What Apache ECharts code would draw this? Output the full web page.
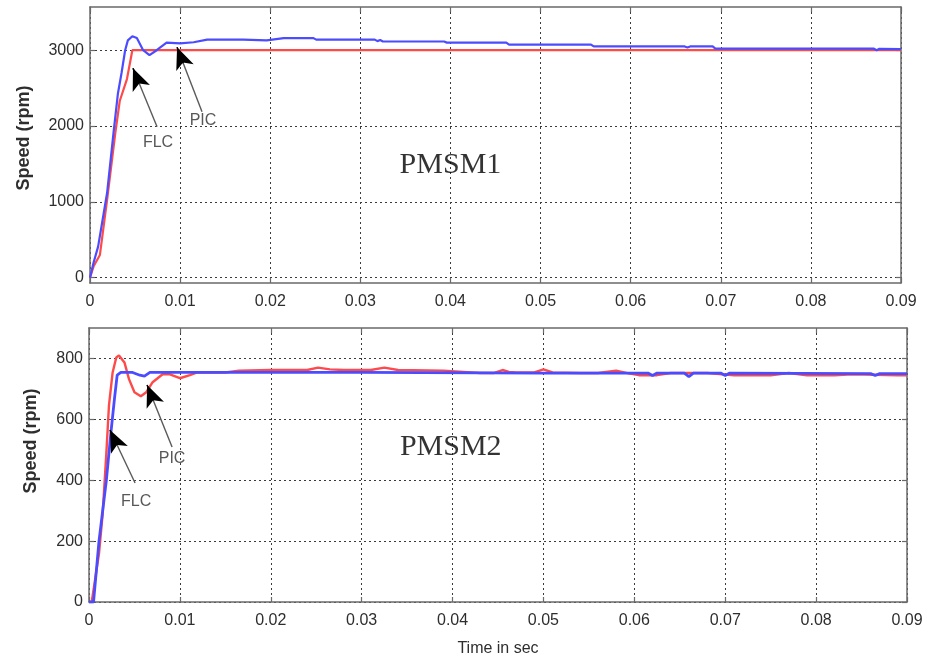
<!DOCTYPE html>
<html>
<head>
<meta charset="utf-8">
<script src="https://cdn.jsdelivr.net/npm/echarts@6/dist/echarts.min.js"></script>
<style>
  html, body { margin: 0; padding: 0; background: #ffffff; }
  #chart { width: 928px; height: 661px; }
</style>
</head>
<body>
<div id="chart"></div>
<script>
// ---- PMSM1 speed response (rpm) ----
const pmsm1FlcTime  = [0, 0.0004, 0.0011, 0.0019, 0.0028, 0.0033, 0.0041, 0.0047, 0.09];
const pmsm1FlcSpeed = [0, 150, 300, 1030, 1900, 2330, 2620, 3000, 3000];

const pmsm1PicTime  = [0, 0.0004, 0.0009, 0.0019, 0.0026, 0.0031, 0.0035, 0.0039, 0.0042, 0.0047,
                       0.0052, 0.0059, 0.0066, 0.0074, 0.0085, 0.0100, 0.0115, 0.0130, 0.0170, 0.0196,
                       0.0215, 0.0248, 0.0251, 0.0316, 0.0319, 0.0322, 0.0325, 0.0393, 0.0396, 0.0462,
                       0.0465, 0.0556, 0.0559, 0.0660, 0.0663, 0.0666, 0.0691, 0.0694, 0.0870, 0.0873,
                       0.0876, 0.09];
const pmsm1PicSpeed = [0, 200, 410, 1120, 1900, 2430, 2700, 3000, 3130, 3185,
                       3160, 3000, 2935, 3000, 3100, 3090, 3105, 3140, 3140, 3130,
                       3160, 3160, 3140, 3140, 3120, 3135, 3115, 3115, 3100, 3100,
                       3075, 3075, 3050, 3050, 3035, 3050, 3050, 3020, 3020, 3000,
                       3018, 3015];

// ---- PMSM2 speed response (rpm) ----
const pmsm2FlcTime  = [0, 0.0005, 0.0011, 0.0019, 0.0024, 0.0028, 0.0031, 0.0035, 0.0048, 0.0056,
                       0.0061, 0.0067, 0.0100, 0.0300, 0.0500, 0.0615, 0.0620, 0.0625, 0.0655, 0.0660,
                       0.0665, 0.0695, 0.0700, 0.0705, 0.0860, 0.0865, 0.0870, 0.09];
const pmsm2FlcSpeed = [0, 0, 200, 397, 553, 667, 745, 754, 754, 745,
                       742, 754, 754, 754, 752, 752, 744, 752, 752, 740,
                       752, 752, 744, 752, 750, 744, 750, 750];

const pmsm2PicTime  = [0, 0.0003, 0.0011, 0.0015, 0.0019, 0.0022, 0.0026, 0.0030, 0.0033, 0.0039,
                       0.0044, 0.0050, 0.0057, 0.0063, 0.0070, 0.0081, 0.0089, 0.0100, 0.0111, 0.0119,
                       0.0150, 0.0165, 0.0200, 0.0240, 0.0252, 0.0265, 0.0280, 0.0310, 0.0325, 0.0340,
                       0.0390, 0.0430, 0.0445, 0.0455, 0.0462, 0.0470, 0.0490, 0.0500, 0.0510, 0.0540,
                       0.0560, 0.0580, 0.0595, 0.0605, 0.0625, 0.0640, 0.0680, 0.0710, 0.0750, 0.0770,
                       0.0790, 0.0820, 0.0840, 0.0890, 0.09];
const pmsm2PicSpeed = [0, 0, 159, 289, 484, 647, 754, 803, 810, 787,
                       732, 689, 676, 689, 722, 748, 748, 735, 745, 754,
                       754, 760, 762, 762, 770, 764, 762, 762, 770, 762,
                       760, 752, 752, 762, 756, 754, 754, 764, 754, 752,
                       752, 760, 750, 745, 745, 752, 752, 745, 745, 752,
                       745, 745, 748, 745, 745];

// ---- axis ticks ----
const pmsm1SpeedTicks = [0, 1000, 2000, 3000];
const pmsm2SpeedTicks = [0, 200, 400, 600, 800];

// ---- text and arrow annotations (data coordinates) ----
const pmsm1Notes = [
  { text: 'FLC', at: [0.00755, 1777], tail: [0.00744, 1990], tip: [0.00477, 2763] },
  { text: 'PIC', at: [0.01254, 2066], tail: [0.01243, 2190], tip: [0.00966, 3040] }
];
const pmsm2Notes = [
  { text: 'FLC', at: [0.00518, 329], tail: [0.00507, 391], tip: [0.00231, 565] },
  { text: 'PIC', at: [0.00914, 470], tail: [0.00914, 509], tip: [0.00639, 713] }
];
const pmsm1Label = { text: 'PMSM1', at: [0.0400, 1487] };
const pmsm2Label = { text: 'PMSM2', at: [0.0398, 509] };

const RED = '#ff4a4a';
const BLUE = '#4b4bff';
const TEXT = '#2e2e2e';
const FRAME = '#6a6a6a';
const SANS = '"Liberation Sans", Arial, sans-serif';

const zip = (xs, ys) => xs.map((x, i) => [x, ys[i]]);

const gridLine = { show: true, lineStyle: { color: '#3a3a3a', width: 1, type: [2, 3] } };

function timeAxis(gridIndex, position, withLabels) {
  return {
    type: 'value', gridIndex, position,
    min: 0, max: 0.09, interval: 0.01,
    axisLine: { show: true, onZero: false, lineStyle: { color: FRAME, width: 1.5 } },
    axisTick: { show: true, inside: true, length: 5, lineStyle: { color: FRAME, width: 1.2 } },
    axisLabel: {
      show: withLabels, margin: 11, color: TEXT, fontSize: 16, fontFamily: SANS,
      formatter: v => (v === 0 ? '0' : v.toFixed(2))
    },
    splitLine: withLabels ? gridLine : { show: false }
  };
}

function speedAxis(gridIndex, position, min, max, ticks, withLabels, name, nameGap, shift) {
  return {
    type: 'value', gridIndex, position, min, max,
    name: withLabels ? name : '',
    nameLocation: 'middle', nameGap,
    nameTextStyle: { color: TEXT, fontSize: 18, fontWeight: 'bold', fontFamily: SANS,
                     padding: [0, 0, 0, shift] },
    axisLine: { show: true, onZero: false, lineStyle: { color: FRAME, width: 1.5 } },
    axisTick: { show: true, inside: true, length: 5, customValues: ticks,
                lineStyle: { color: FRAME, width: 1.2 } },
    axisLabel: { show: withLabels, customValues: ticks, margin: 6, color: TEXT,
                 fontSize: 16, fontFamily: SANS, formatter: v => String(v) },
    splitLine: withLabels ? gridLine : { show: false }
  };
}

function curve(axisIdx, xs, ys, color, z, width) {
  return {
    type: 'line', xAxisIndex: axisIdx, yAxisIndex: axisIdx,
    data: zip(xs, ys), symbol: 'none', showSymbol: false, z,
    lineStyle: { color, width }, silent: true
  };
}

// Arrow = gray shaft from the text to the curve plus a black head at the tip
function arrowLines(notes) {
  const lines = [];
  notes.forEach(n => {
    lines.push([
      { coord: n.tail, symbol: 'none', lineStyle: { color: '#5a5a5a', width: 1.4, type: 'solid' } },
      { coord: n.tip, symbol: 'none' }
    ]);
    const f = 0.75;
    const base = [n.tail[0] + (n.tip[0] - n.tail[0]) * f, n.tail[1] + (n.tip[1] - n.tail[1]) * f];
    lines.push([
      { coord: base, symbol: 'none', lineStyle: { color: '#000', width: 1.4, type: 'solid' } },
      { coord: n.tip, symbol: 'arrow', symbolSize: [14, 22] }
    ]);
  });
  return lines;
}

function notesSeries(axisIdx, notes, label) {
  return [
    {
      type: 'scatter', xAxisIndex: axisIdx, yAxisIndex: axisIdx, symbolSize: 0, z: 5, silent: true,
      data: notes.map(n => ({ name: n.text, value: n.at })),
      label: { show: true, position: 'inside', formatter: '{b}', color: TEXT,
               fontSize: 16, fontFamily: SANS },
      markLine: { silent: true, animation: false, label: { show: false },
                  lineStyle: { type: 'solid' },
                  symbol: ['none', 'none'], data: arrowLines(notes) }
    },
    {
      type: 'scatter', xAxisIndex: axisIdx, yAxisIndex: axisIdx, symbolSize: 0, z: 5, silent: true,
      data: [{ name: label.text, value: label.at }],
      label: { show: true, position: 'inside', formatter: '{b}', color: '#000',
               fontSize: 30, fontFamily: '"Liberation Serif", "Times New Roman", serif' }
    }
  ];
}

const chart = echarts.init(document.getElementById('chart'), null, { renderer: 'canvas' });

chart.setOption({
  animation: false,
  backgroundColor: '#ffffff',
  grid: [
    { left: 90, right: 27, top: 7, height: 276 },
    { left: 89, right: 21, top: 328, height: 274 }
  ],
  xAxis: [
    timeAxis(0, 'bottom', true),
    timeAxis(0, 'top', false),
    Object.assign(timeAxis(1, 'bottom', true), {
      name: 'Time in sec', nameLocation: 'middle', nameGap: 39,
      nameTextStyle: { color: TEXT, fontSize: 16, fontFamily: SANS }
    }),
    timeAxis(1, 'top', false)
  ],
  yAxis: [
    speedAxis(0, 'left', -70, 3570, pmsm1SpeedTicks, true, 'Speed (rpm)', 57, 14),
    speedAxis(0, 'right', -70, 3570, pmsm1SpeedTicks, false, '', 0, 0),
    speedAxis(1, 'left', 0, 900, pmsm2SpeedTicks, true, 'Speed (rpm)', 49, 48),
    speedAxis(1, 'right', 0, 900, pmsm2SpeedTicks, false, '', 0, 0)
  ],
  series: [
    curve(0, pmsm1FlcTime, pmsm1FlcSpeed, RED, 2, 2.2),
    curve(0, pmsm1PicTime, pmsm1PicSpeed, BLUE, 3, 2.2),
    ...notesSeries(0, pmsm1Notes, pmsm1Label),
    curve(2, pmsm2PicTime, pmsm2PicSpeed, RED, 2, 2.4),
    curve(2, pmsm2FlcTime, pmsm2FlcSpeed, BLUE, 3, 2.8),
    ...notesSeries(2, pmsm2Notes, pmsm2Label)
  ]
});
</script>
</body>
</html>
